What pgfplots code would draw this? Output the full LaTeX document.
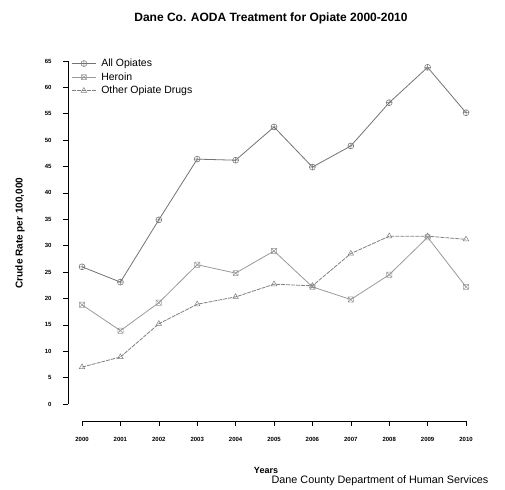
\documentclass[border=0pt]{standalone}
\usepackage{pgfplots}
\pgfplotsset{compat=1.18}
\usepackage{fontspec}
\setmainfont{Liberation Sans}
\pgfdeclareplotmark{sqx}{%
  \pgfpathrectangle{\pgfpoint{-\pgfplotmarksize}{-\pgfplotmarksize}}{\pgfpoint{2\pgfplotmarksize}{2\pgfplotmarksize}}%
  \pgfpathmoveto{\pgfpoint{-\pgfplotmarksize}{-\pgfplotmarksize}}\pgfpathlineto{\pgfpoint{\pgfplotmarksize}{\pgfplotmarksize}}%
  \pgfpathmoveto{\pgfpoint{-\pgfplotmarksize}{\pgfplotmarksize}}\pgfpathlineto{\pgfpoint{\pgfplotmarksize}{-\pgfplotmarksize}}%
  \pgfusepathqstroke}
\definecolor{cA}{gray}{0.45}
\definecolor{cH}{gray}{0.6}
\definecolor{cO}{gray}{0.5}
\begin{document}
\begin{tikzpicture}
\path[use as bounding box] (0pt,0pt) rectangle (505pt,489pt);
\begin{axis}[
  at={(68pt,68pt)}, anchor=south west,
  scale only axis, width=398pt, height=360pt,
  xmin=-0.365, xmax=10, ymin=-3.22, ymax=65,
  clip=false,
  axis x line*=bottom, axis y line*=left,
  axis line style={draw=none},
  tick align=outside, major tick length=5pt,
  tick style={black, line width=0.6pt},
  xtick={0,...,10},
  xticklabels={2000,2001,2002,2003,2004,2005,2006,2007,2008,2009,2010},
  ytick={0,5,...,65},
  /pgf/number format/assume math mode=true,
  tick label style={font=\fontsize{6}{7}\selectfont\bfseries},
  yticklabel style={xshift=-8pt},
  xticklabel style={yshift=-8pt},
  legend style={draw=none, fill=none, at={(axis cs:-0.28,65.8)}, anchor=north west,
    font=\fontsize{10.5}{12}\selectfont, row sep=0.5pt, inner sep=0pt,
    nodes={inner xsep=5pt}},
  legend cell align=left,
  legend image code/.code={\draw[#1] (0pt,0pt) -- (24pt,0pt); \draw[#1, mark repeat=2, mark phase=2] plot coordinates {(0pt,0pt) (12pt,0pt) (24pt,0pt)};},
]
\addplot[color=cA, line width=0.8pt, mark=oplus, mark size=3pt, mark options={solid, line width=0.5pt}] coordinates {
(0,26.0) (1,23.1) (2,34.9) (3,46.4) (4,46.2) (5,52.5) (6,44.9) (7,48.9) (8,57.1) (9,63.8) (10,55.2)};
\addlegendentry{All Opiates}
\addplot[color=cH, line width=0.8pt, mark=sqx, mark size=2.6pt, mark options={solid, line width=0.5pt}] coordinates {
(0,18.8) (1,13.9) (2,19.2) (3,26.4) (4,24.8) (5,29.0) (6,22.2) (7,19.8) (8,24.5) (9,31.6) (10,22.2)};
\addlegendentry{Heroin}
\addplot[color=cO, line width=0.8pt, dash pattern=on 4pt off 1pt, mark=triangle, mark size=3.2pt, mark options={solid, line width=0.5pt}] coordinates {
(0,7.0) (1,8.9) (2,15.2) (3,18.9) (4,20.3) (5,22.7) (6,22.4) (7,28.5) (8,31.8) (9,31.8) (10,31.2)};
\addlegendentry{Other Opiate Drugs}
\draw[black, line width=0.7pt] (axis cs:-0.365,0) -- (axis cs:-0.365,65);
\draw[black, line width=0.7pt] (axis cs:0,-3.22) -- (axis cs:10,-3.22);
\end{axis}
\node[font=\fontsize{12}{14}\selectfont\bfseries] at (271pt,471pt) {Dane Co. AODA Treatment for Opiate 2000-2010};
\node[font=\fontsize{10}{12}\selectfont\bfseries, rotate=90] at (20pt,256pt) {Crude Rate per 100,000};
\node[font=\fontsize{9}{11}\selectfont\bfseries] at (266pt,19pt) {Years};
\node[font=\fontsize{10.8}{12}\selectfont] at (380pt,8pt) {Dane County Department of Human Services};
\end{tikzpicture}
\end{document}
